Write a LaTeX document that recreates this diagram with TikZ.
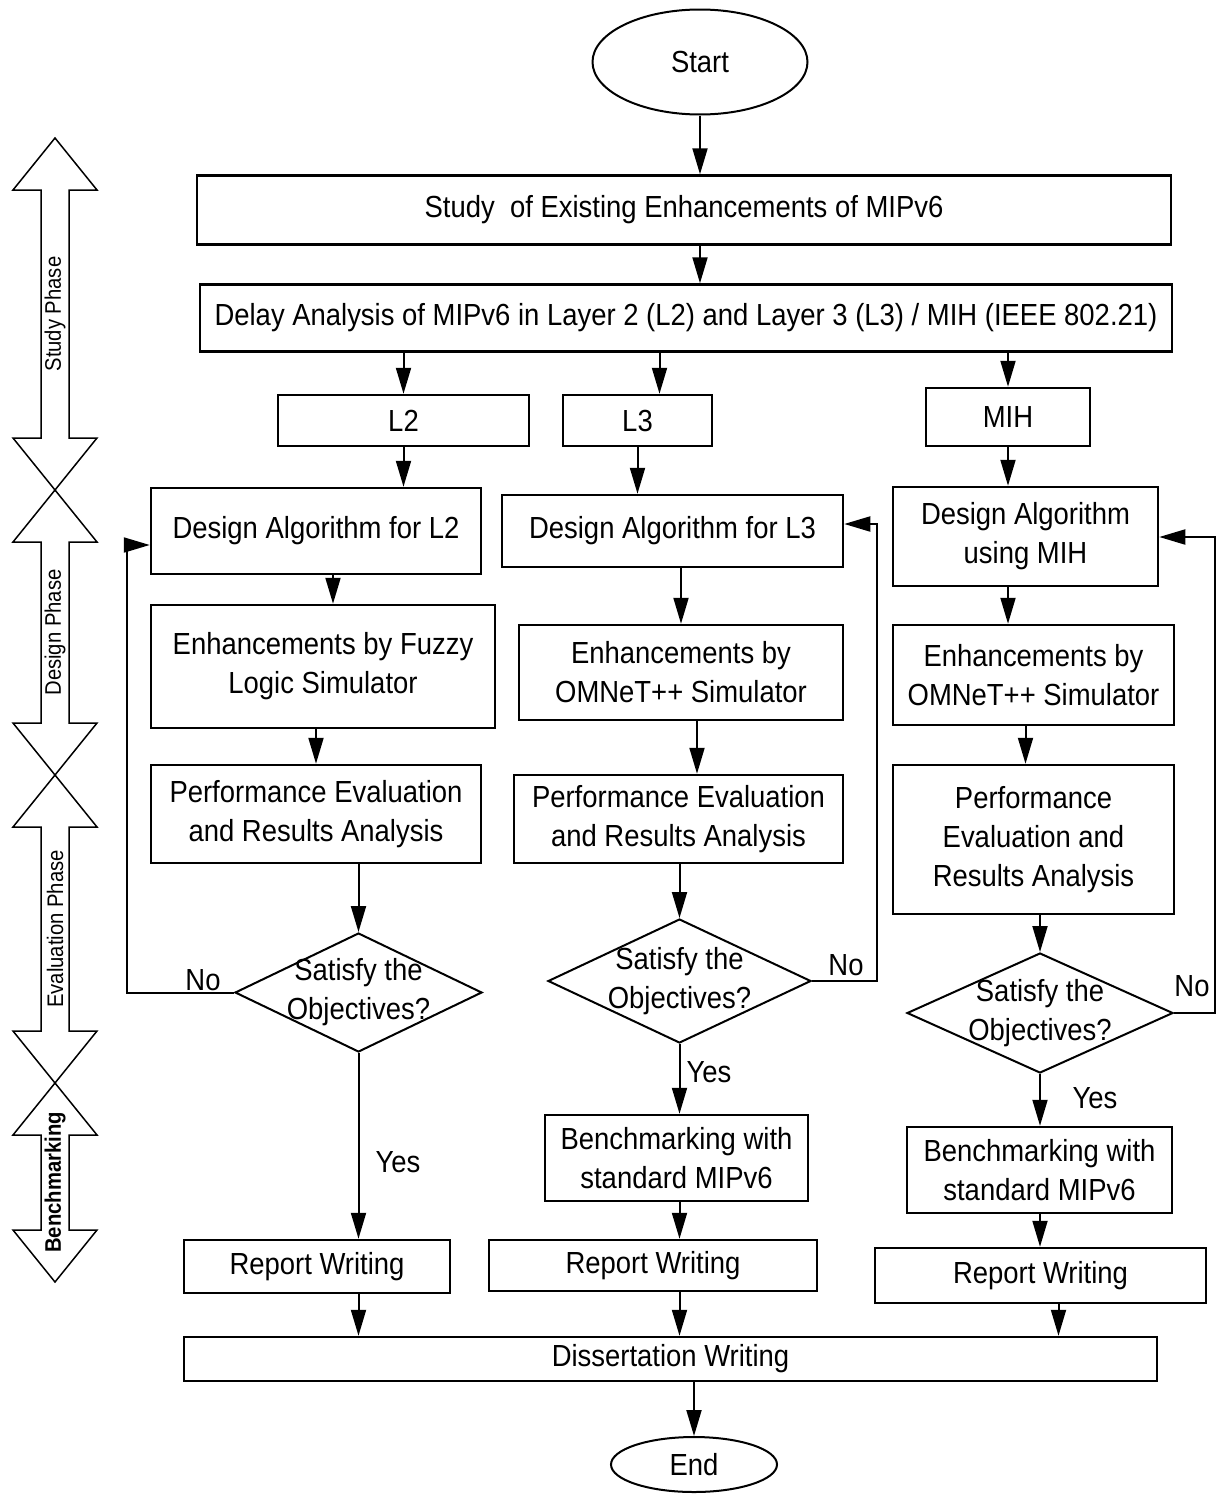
\documentclass[tikz,border=0pt]{standalone}
\usepackage{fontspec}
\setmainfont[FakeStretch=0.9]{Liberation Sans}
\usetikzlibrary{shapes.geometric,arrows.meta,positioning}
\tikzset{
  box/.style={draw=black, line width=2.5pt, align=center, inner sep=0pt, font=\fontsize{30.5}{39}\selectfont},
  term/.style={ellipse, draw=black, line width=2pt, inner sep=0pt, font=\fontsize{30.5}{39}\selectfont},
  decision/.style={diamond, draw=black, line width=2pt, inner sep=0pt},
  txt/.style={align=center, inner sep=0pt, font=\fontsize{30.5}{39}\selectfont},
  arr/.style={draw=black, line width=2pt, -{Triangle[length=26pt,width=15pt]}},
  phase/.style={draw=black, line width=1.5pt, line join=miter},
  phaselab/.style={rotate=90, inner sep=0pt, font=\fontsize{22.5}{26}\selectfont},
}
\begin{document}
\begin{tikzpicture}[x=1pt, y=-1pt]
\useasboundingbox (0,0) rectangle (1219,1499);

% phases on the left
\foreach \ya/\yb/\lbl in {138/490/{Study Phase}, 490/775/{Design Phase}, 775/1083/{Evaluation Phase}, 1083/1282/{\textbf{Benchmarking}}} {
  \draw[phase] (55,\ya) -- (97,\ya+52) -- (69,\ya+52) -- (69,\yb-52) -- (97,\yb-52) -- (55,\yb)
    -- (13,\yb-52) -- (41,\yb-52) -- (41,\ya+52) -- (13,\ya+52) -- cycle;
  \node[phaselab] at (55,{(\ya+\yb)/2}) {\lbl};
}

% common part
\node[term, minimum width=215pt, minimum height=105pt] (start) at (700,62) {Start};
\node[box, minimum width=974pt, minimum height=69pt] (study) at (684,210) {Study\ \ of Existing Enhancements of MIPv6};
\node[box, minimum width=972pt, minimum height=67pt] (delay) at (686,318) {Delay Analysis of MIPv6 in Layer 2 (L2) and Layer 3 (L3) / MIH (IEEE 802.21)};
\node[box, minimum width=251pt, minimum height=51pt] (l2) at (403.5,420.5) {L2};
\node[box, minimum width=149pt, minimum height=51pt] (l3) at (637.5,420.5) {L3};
\node[box, minimum width=164pt, minimum height=58pt] (mih) at (1008,417) {MIH};

% L2 column
\node[box, minimum width=330pt, minimum height=86pt] (desL2) at (316,531) {Design Algorithm for L2};
\node[box, minimum width=344pt, minimum height=123pt] (enL2) at (323,666.5) {Enhancements by Fuzzy\\Logic Simulator};
\node[box, minimum width=330pt, minimum height=98pt] (perfL2) at (316,814) {Performance Evaluation\\and Results Analysis};
\node[decision, minimum width=247pt, minimum height=119pt] (decL2) at (358.5,992.5) {};
\node[txt] at (decL2) {Satisfy the\\Objectives?};
\node[box, minimum width=266pt, minimum height=53pt] (repL2) at (317,1266.5) {Report Writing};

% L3 column
\node[box, minimum width=341pt, minimum height=72pt] (desL3) at (672.5,531) {Design Algorithm for L3};
\node[box, minimum width=324pt, minimum height=95pt] (enL3) at (681,672.5) {Enhancements by\\OMNeT++ Simulator};
\node[box, minimum width=329pt, minimum height=88pt] (perfL3) at (678.5,819) {Performance Evaluation\\and Results Analysis};
\node[decision, minimum width=263pt, minimum height=124pt] (decL3) at (679.5,981) {};
\node[txt] at (decL3) {Satisfy the\\Objectives?};
\node[box, minimum width=263pt, minimum height=86pt] (benL3) at (676.5,1158) {Benchmarking with\\standard MIPv6};
\node[box, minimum width=328pt, minimum height=51pt] (repL3) at (653,1265.5) {Report Writing};

% MIH column
\node[box, minimum width=265pt, minimum height=99pt] (desMIH) at (1025.5,536.5) {Design Algorithm\\using MIH};
\node[box, minimum width=281pt, minimum height=100pt] (enMIH) at (1033.5,675) {Enhancements by\\OMNeT++ Simulator};
\node[box, minimum width=281pt, minimum height=149pt] (perfMIH) at (1033.5,839.5) {Performance\\Evaluation and\\Results Analysis};
\node[decision, minimum width=266pt, minimum height=120pt] (decMIH) at (1040,1013) {};
\node[txt] at (decMIH) {Satisfy the\\Objectives?};
\node[box, minimum width=265pt, minimum height=86pt] (benMIH) at (1039.5,1170) {Benchmarking with\\standard MIPv6};
\node[box, minimum width=331pt, minimum height=55pt] (repMIH) at (1040.5,1275.5) {Report Writing};

\node[box, minimum width=973pt, minimum height=44pt] (diss) at (670.5,1359) {Dissertation Writing};
\node[term, minimum width=166pt, minimum height=55pt] (stop) at (694,1464.5) {End};

% yes / no labels
\node[txt] (noL2lab) at (203,980) {No};
\node[txt] (yesL2lab) at (398,1162) {Yes};
\node[txt] (noL3lab) at (846,965) {No};
\node[txt] (yesL3lab) at (709,1072) {Yes};
\node[txt] (noMIHlab) at (1192,986) {No};
\node[txt] (yesMIHlab) at (1095,1098) {Yes};

% connectors
\draw[arr] (start) -- (study.north -| start);
\draw[arr] (study.south -| start) -- (delay.north -| start);
\draw[arr] (delay.south -| l2) -- (l2);
\draw[arr] ([xshift=22pt]l3.north |- delay.south) -- ([xshift=22pt]l3.north);
\draw[arr] (delay.south -| mih) -- (mih);
\draw[arr] (l2) -- (desL2.north -| l2);
\draw[arr] (l3) -- (desL3.north -| l3);
\draw[arr] (mih) -- (desMIH.north -| mih);

\draw[arr] ([xshift=10pt]enL2.north |- desL2.south) -- ([xshift=10pt]enL2.north);
\draw[arr] (enL2.south -| perfL2) -- (perfL2);
\draw[arr] (perfL2.south -| decL2) -- (decL2);
\draw[arr] (decL2) -- (repL2.north -| decL2);
\draw[arr] (repL2.south -| decL2) -- (diss.north -| decL2);
\coordinate (noL2) at (127,545);
\draw[arr] (decL2.west) -| (noL2) -- (desL2.west |- noL2);

\draw[arr] (desL3.south -| enL3) -- (enL3);
\draw[arr] ([xshift=16pt]enL3.south) -- ([xshift=16pt]enL3.south |- perfL3.north);
\draw[arr] (perfL3.south -| decL3) -- (decL3);
\draw[arr] (decL3) -- (benL3.north -| decL3);
\draw[arr] (benL3.south -| decL3) -- (repL3.north -| decL3);
\draw[arr] (repL3.south -| decL3) -- (diss.north -| decL3);
\coordinate (noL3) at (877,524);
\draw[arr] (decL3.east) -| (noL3) -- (desL3.east |- noL3);

\draw[arr] (desMIH.south -| mih) -- (enMIH.north -| mih);
\draw[arr] ([xshift=-8pt]enMIH.south) -- ([xshift=-8pt]enMIH.south |- perfMIH.north);
\draw[arr] (perfMIH.south -| decMIH) -- (decMIH);
\draw[arr] (decMIH) -- (benMIH.north -| decMIH);
\draw[arr] (benMIH.south -| decMIH) -- (repMIH.north -| decMIH);
\draw[arr] ([xshift=18pt]repMIH.south) -- ([xshift=18pt]repMIH.south |- diss.north);
\coordinate (noMIH) at (1215,537);
\draw[arr] (decMIH.east) -| (noMIH) -- (desMIH.east |- noMIH);

\draw[arr] (diss.south -| stop) -- (stop);
\end{tikzpicture}
\end{document}
